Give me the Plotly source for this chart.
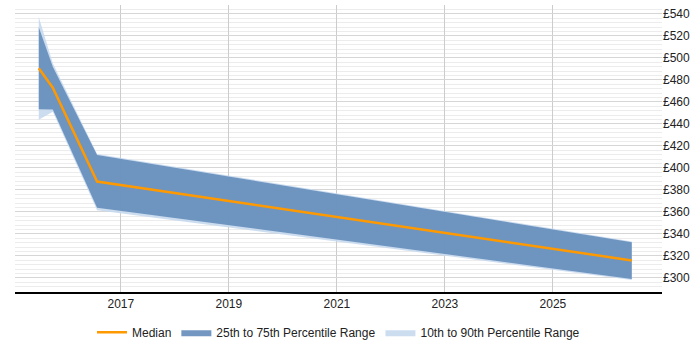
import plotly.graph_objects as go

years = [2015.48, 2015.74, 2016.56, 2026.46]
median = [490.5, 472.8, 387.6, 315.9]
p25 = [453.2, 453.0, 363.8, 299.1]
p75 = [527.7, 492.0, 411.7, 332.3]
p10 = [443.8, 451.0, 361.6, 298.0]
p90 = [537.0, 495.0, 412.6, 333.0]
x_ticks = [2017, 2019, 2021, 2023, 2025]

fig = go.Figure()
fig.add_trace(go.Scatter(x=years, y=p10, mode="lines", line=dict(width=0),
                         showlegend=False, hoverinfo="skip"))
fig.add_trace(go.Scatter(x=years, y=p90, mode="lines", line=dict(width=0),
                         fill="tonexty", fillcolor="rgba(198,217,238,0.9)",
                         name="10th to 90th Percentile Range", legendrank=3))
fig.add_trace(go.Scatter(x=years, y=p25, mode="lines", line=dict(width=0),
                         showlegend=False, hoverinfo="skip"))
fig.add_trace(go.Scatter(x=years, y=p75, mode="lines", line=dict(width=0),
                         fill="tonexty", fillcolor="rgba(100,140,186,0.9)",
                         name="25th to 75th Percentile Range", legendrank=2))
fig.add_trace(go.Scatter(x=years, y=median, mode="lines",
                         line=dict(color="#FF9900", width=2.5),
                         name="Median", legendrank=1))

fig.update_layout(
    width=700, height=350,
    margin=dict(l=15, r=38, t=5, b=58, autoexpand=False),
    plot_bgcolor="white", paper_bgcolor="white",
    font=dict(family="Liberation Sans, Arial, sans-serif", size=12, color="#222"),
    legend=dict(orientation="h", x=0.5, xanchor="center",
                yref="container", y=0.092, yanchor="top",
                font=dict(size=12), itemwidth=30, traceorder="normal"),
    showlegend=True,
)
fig.update_xaxes(range=[2015.04, 2027.02], tickvals=x_ticks,
                 ticktext=[str(v) for v in x_ticks],
                 showgrid=True, gridcolor="#cccccc", gridwidth=1,
                 showline=True, linecolor="#000", linewidth=1.5,
                 ticks="", zeroline=False)
fig.update_yaxes(range=[287.2, 548], side="right", tick0=300, dtick=20,
                 tickprefix="£", showgrid=True, gridcolor="#d6d6d6",
                 minor=dict(dtick=4, tick0=300, showgrid=True, gridcolor="#ececec"),
                 zeroline=False, ticks="", showline=False)

fig.write_html("out.html")
